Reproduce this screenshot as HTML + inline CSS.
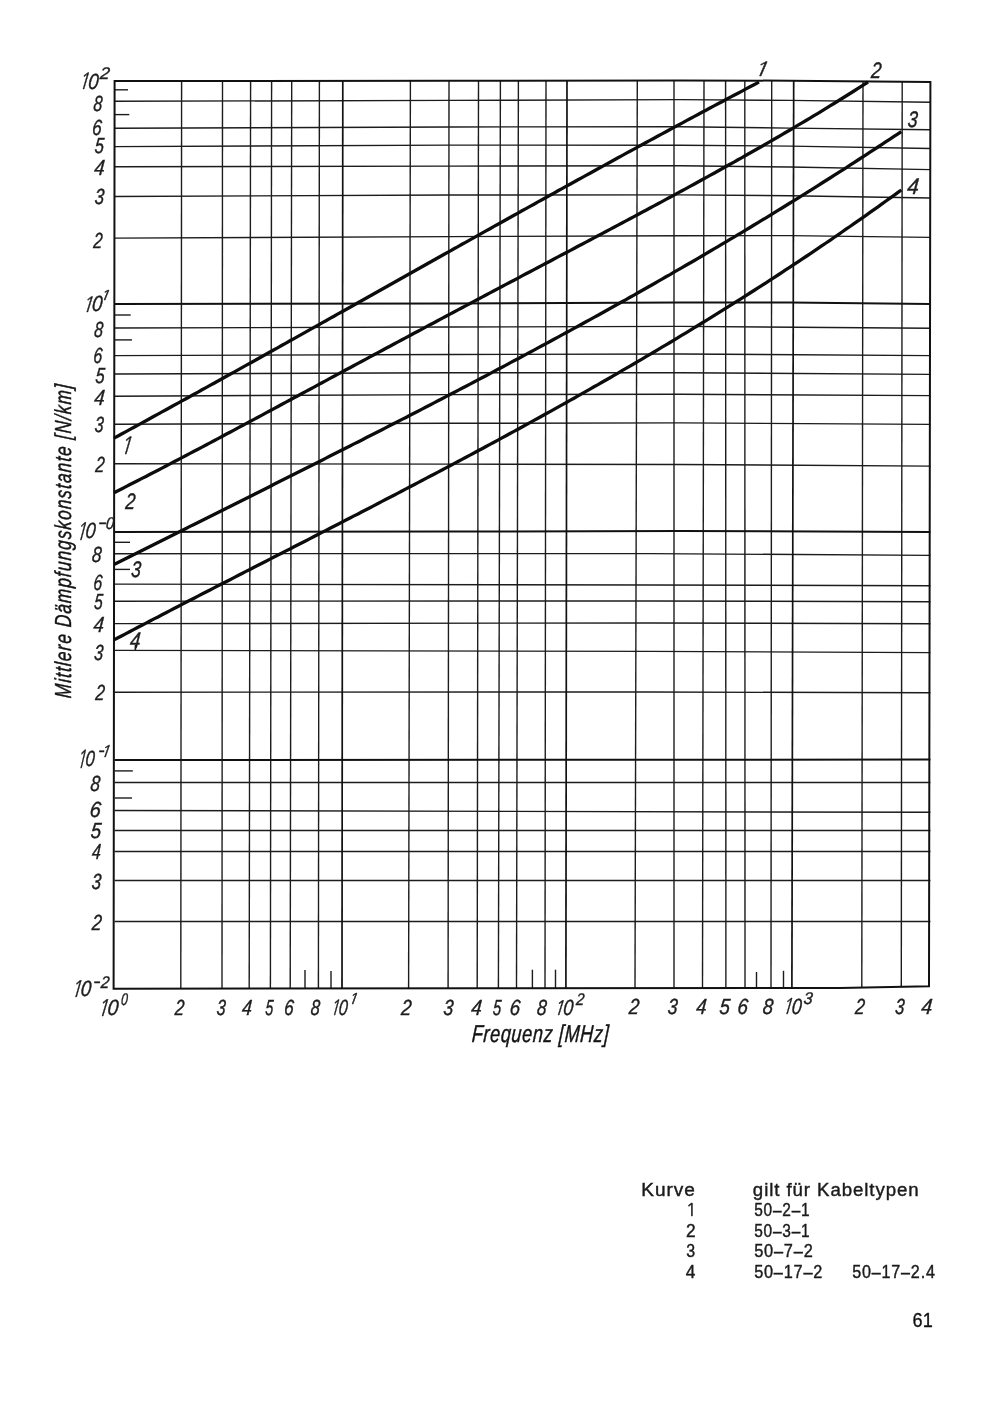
<!DOCTYPE html>
<html lang="de"><head><meta charset="utf-8"><title>Mittlere Dämpfungskonstante – Frequenz</title>
<style>
html,body{margin:0;padding:0;background:#fff;}
body{width:1000px;height:1404px;overflow:hidden;position:relative;}
svg{position:absolute;left:0;top:0;display:block;}
.t{font-family:"Liberation Sans",Arial,sans-serif;font-style:italic;fill:#151515;}
.g{font-family:"Liberation Sans",Arial,sans-serif;fill:#1a1a1a;}
</style></head><body>
<svg width="1000" height="1404" viewBox="0 0 1000 1404">
<rect width="1000" height="1404" fill="#fff"/>
<g stroke="#1c1c1c" stroke-width="1.4" fill="none" stroke-linecap="butt">
<polyline points="114.6,101.3 450.0,100.4 680.0,99.6 790.0,100.4 930.4,102.2"/>
<polyline points="114.6,128.2 450.0,127.0 680.0,126.7 790.0,128.1 930.4,129.8"/>
<polyline points="114.6,146.6 450.0,145.1 680.0,145.2 790.0,146.1 930.4,148.5"/>
<polyline points="114.6,166.7 450.0,166.1 680.0,165.8 790.0,167.0 930.4,169.6"/>
<polyline points="114.6,196.5 450.0,195.0 680.0,194.9 790.0,195.7 930.4,198.0"/>
<polyline points="114.6,238.1 450.0,236.6 680.0,235.7 790.0,235.6 930.4,237.4"/>
<polyline points="114.6,328.0 450.0,327.0 680.0,326.4 930.4,328.3"/>
<polyline points="114.6,355.6 450.0,354.5 680.0,354.0 930.4,355.6"/>
<polyline points="114.6,374.0 450.0,372.8 680.0,372.7 930.4,374.4"/>
<polyline points="114.6,396.2 450.0,394.6 680.0,394.3 930.4,395.6"/>
<polyline points="114.6,424.2 450.0,423.3 680.0,422.9 930.4,424.4"/>
<polyline points="114.6,463.7 450.0,464.1 680.0,464.5 930.4,466.1"/>
<polyline points="114.6,553.7 650.0,553.6 930.4,555.4"/>
<polyline points="114.6,584.1 650.0,585.0 930.4,585.7"/>
<polyline points="114.6,601.2 650.0,601.0 930.4,601.7"/>
<polyline points="114.6,623.6 650.0,623.0 930.4,623.7"/>
<polyline points="114.6,650.4 650.0,651.4 930.4,652.6"/>
<polyline points="114.6,692.2 650.0,692.0 930.4,692.8"/>
<polyline points="114.6,782.5 930.4,782.5"/>
<polyline points="114.6,810.5 930.4,812.3"/>
<polyline points="114.6,830.5 930.4,830.5"/>
<polyline points="114.6,851.5 930.4,851.5"/>
<polyline points="114.6,880.5 930.4,880.5"/>
<polyline points="114.6,921.5 930.4,921.5"/>
<line x1="181.6" y1="81.0" x2="180.8" y2="988.6"/>
<line x1="222.5" y1="80.9" x2="222.0" y2="988.6"/>
<line x1="250.6" y1="80.9" x2="249.2" y2="988.5"/>
<line x1="271.6" y1="80.9" x2="270.4" y2="988.5"/>
<line x1="291.7" y1="80.9" x2="290.2" y2="988.5"/>
<line x1="319.4" y1="80.9" x2="318.4" y2="988.4"/>
<line x1="410.4" y1="80.8" x2="408.6" y2="988.3"/>
<line x1="449.0" y1="80.8" x2="448.1" y2="988.2"/>
<line x1="478.5" y1="80.8" x2="477.2" y2="988.2"/>
<line x1="500.4" y1="80.7" x2="498.4" y2="988.2"/>
<line x1="518.4" y1="80.7" x2="516.5" y2="988.2"/>
<line x1="546.0" y1="80.6" x2="545.0" y2="988.2"/>
<line x1="637.3" y1="80.5" x2="635.0" y2="988.1"/>
<line x1="674.0" y1="80.4" x2="674.0" y2="988.1"/>
<line x1="704.0" y1="80.5" x2="702.5" y2="988.1"/>
<line x1="725.6" y1="80.5" x2="725.9" y2="988.1"/>
<line x1="744.8" y1="80.6" x2="745.0" y2="988.1"/>
<line x1="771.7" y1="80.7" x2="771.0" y2="988.0"/>
<line x1="863.0" y1="81.3" x2="861.8" y2="987.6"/>
<line x1="902.2" y1="81.7" x2="901.3" y2="986.8"/>
<line x1="114.6" y1="89.8" x2="128.0" y2="89.8"/>
<line x1="114.6" y1="114.6" x2="129.3" y2="114.6"/>
<line x1="114.6" y1="315.0" x2="130.7" y2="315.0"/>
<line x1="114.6" y1="339.9" x2="132.0" y2="339.9"/>
<line x1="114.6" y1="542.3" x2="130.0" y2="542.3"/>
<line x1="114.6" y1="569.4" x2="130.0" y2="569.4"/>
<line x1="114.6" y1="770.9" x2="132.8" y2="770.9"/>
<line x1="114.6" y1="798.0" x2="132.0" y2="798.0"/>
<line x1="305.0" y1="970.0" x2="305.0" y2="988.4"/>
<line x1="331.0" y1="971.0" x2="331.0" y2="988.4"/>
<line x1="532.4" y1="969.7" x2="532.4" y2="988.2"/>
<line x1="555.5" y1="969.7" x2="555.5" y2="988.2"/>
<line x1="756.5" y1="972.0" x2="756.5" y2="988.0"/>
<line x1="783.5" y1="970.8" x2="783.5" y2="988.0"/>
</g>
<g stroke="#111" stroke-width="2" fill="none">
<polyline points="114.6,303.9 450.0,303.5 680.0,302.4 790.0,302.6 930.4,304.0"/>
<polyline points="114.6,532.0 450.0,531.6 680.0,531.0 930.4,532.0"/>
<polyline points="114.6,760.1 930.4,759.6"/>
<line x1="342.8" y1="80.9" x2="342.0" y2="988.4" stroke-width="1.7"/>
<line x1="567.0" y1="80.6" x2="565.9" y2="988.2" stroke-width="1.7"/>
<line x1="793.7" y1="80.7" x2="791.9" y2="988.0" stroke-width="1.7"/>
<polygon points="114.6,81.0 450.0,80.8 680.0,80.4 790.0,80.7 930.4,81.9 929.0,986.3 840.0,988.0 480.0,988.2 113.6,988.7" stroke-width="2.0" stroke-linejoin="miter"/>
</g>
<g stroke="#0c0c0c" stroke-width="3.3" fill="none" stroke-linejoin="round" stroke-linecap="butt">
<polyline points="114.0,438.1 118.0,436.0 122.0,433.8 126.0,431.6 130.0,429.4 134.0,427.2 138.0,425.1 142.0,422.9 146.0,420.7 150.0,418.5 154.0,416.3 158.0,414.1 162.0,411.9 166.0,409.7 170.0,407.5 174.0,405.3 178.0,403.1 182.0,400.9 186.0,398.7 190.0,396.5 194.0,394.3 198.0,392.1 202.0,389.8 206.0,387.6 210.0,385.4 214.0,383.2 218.0,381.0 222.0,378.8 226.0,376.5 230.0,374.3 234.0,372.1 238.0,369.9 242.0,367.6 246.0,365.4 250.0,363.2 254.0,361.0 258.0,358.7 262.0,356.5 266.0,354.3 270.0,352.0 274.0,349.8 278.0,347.6 282.0,345.3 286.0,343.1 290.0,340.8 294.0,338.6 298.0,336.4 302.0,334.1 306.0,331.9 310.0,329.6 314.0,327.4 318.0,325.2 322.0,322.9 326.0,320.7 330.0,318.4 334.0,316.2 338.0,313.9 342.0,311.7 346.0,309.5 350.0,307.2 354.0,305.0 358.0,302.7 362.0,300.5 366.0,298.2 370.0,296.0 374.0,293.7 378.0,291.5 382.0,289.2 386.0,287.0 390.0,284.7 394.0,282.5 398.0,280.2 402.0,278.0 406.0,275.8 410.0,273.5 414.0,271.3 418.0,269.0 422.0,266.8 426.0,264.5 430.0,262.3 434.0,260.0 438.0,257.8 442.0,255.5 446.0,253.3 450.0,251.1 454.0,248.8 458.0,246.6 462.0,244.3 466.0,242.1 470.0,239.9 474.0,237.6 478.0,235.4 482.0,233.1 486.0,230.9 490.0,228.7 494.0,226.4 498.0,224.2 502.0,222.0 506.0,219.7 510.0,217.5 514.0,215.3 518.0,213.1 522.0,210.8 526.0,208.6 530.0,206.4 534.0,204.2 538.0,201.9 542.0,199.7 546.0,197.5 550.0,195.3 554.0,193.1 558.0,190.8 562.0,188.6 566.0,186.4 570.0,184.2 574.0,182.0 578.0,179.8 582.0,177.6 586.0,175.4 590.0,173.2 594.0,171.0 598.0,168.8 602.0,166.6 606.0,164.4 610.0,162.2 614.0,160.0 618.0,157.8 622.0,155.6 626.0,153.4 630.0,151.3 634.0,149.1 638.0,146.9 642.0,144.7 646.0,142.5 650.0,140.4 654.0,138.2 658.0,136.0 662.0,133.9 666.0,131.7 670.0,129.5 674.0,127.4 678.0,125.2 682.0,123.1 686.0,120.9 690.0,118.8 694.0,116.6 698.0,114.5 702.0,112.3 706.0,110.2 710.0,108.0 714.0,105.9 718.0,103.8 722.0,101.7 726.0,99.5 730.0,97.4 734.0,95.3 738.0,93.2 742.0,91.1 746.0,88.9 750.0,86.8 754.0,84.7 758.0,82.6 759.0,82.1"/>
<polyline points="114.0,492.7 118.0,490.7 122.0,488.7 126.0,486.6 130.0,484.6 134.0,482.5 138.0,480.5 142.0,478.4 146.0,476.4 150.0,474.3 154.0,472.3 158.0,470.2 162.0,468.1 166.0,466.0 170.0,463.9 174.0,461.8 178.0,459.7 182.0,457.6 186.0,455.5 190.0,453.4 194.0,451.3 198.0,449.2 202.0,447.1 206.0,445.0 210.0,442.9 214.0,440.7 218.0,438.6 222.0,436.5 226.0,434.3 230.0,432.2 234.0,430.1 238.0,427.9 242.0,425.8 246.0,423.6 250.0,421.5 254.0,419.4 258.0,417.2 262.0,415.1 266.0,412.9 270.0,410.8 274.0,408.6 278.0,406.5 282.0,404.3 286.0,402.1 290.0,400.0 294.0,397.8 298.0,395.7 302.0,393.5 306.0,391.4 310.0,389.2 314.0,387.1 318.0,384.9 322.0,382.7 326.0,380.6 330.0,378.4 334.0,376.3 338.0,374.1 342.0,372.0 346.0,369.8 350.0,367.7 354.0,365.5 358.0,363.4 362.0,361.2 366.0,359.1 370.0,356.9 374.0,354.8 378.0,352.6 382.0,350.5 386.0,348.3 390.0,346.2 394.0,344.0 398.0,341.9 402.0,339.7 406.0,337.6 410.0,335.5 414.0,333.3 418.0,331.2 422.0,329.1 426.0,326.9 430.0,324.8 434.0,322.7 438.0,320.5 442.0,318.4 446.0,316.3 450.0,314.1 454.0,312.0 458.0,309.9 462.0,307.7 466.0,305.6 470.0,303.5 474.0,301.4 478.0,299.2 482.0,297.1 486.0,295.0 490.0,292.9 494.0,290.8 498.0,288.6 502.0,286.5 506.0,284.4 510.0,282.3 514.0,280.2 518.0,278.1 522.0,275.9 526.0,273.8 530.0,271.7 534.0,269.6 538.0,267.5 542.0,265.4 546.0,263.3 550.0,261.2 554.0,259.0 558.0,256.9 562.0,254.8 566.0,252.7 570.0,250.6 574.0,248.5 578.0,246.3 582.0,244.2 586.0,242.1 590.0,240.0 594.0,237.9 598.0,235.8 602.0,233.6 606.0,231.5 610.0,229.4 614.0,227.3 618.0,225.1 622.0,223.0 626.0,220.9 630.0,218.7 634.0,216.6 638.0,214.5 642.0,212.3 646.0,210.2 650.0,208.0 654.0,205.9 658.0,203.7 662.0,201.6 666.0,199.4 670.0,197.3 674.0,195.1 678.0,192.9 682.0,190.7 686.0,188.6 690.0,186.4 694.0,184.2 698.0,182.0 702.0,179.8 706.0,177.6 710.0,175.4 714.0,173.2 718.0,171.0 722.0,168.8 726.0,166.5 730.0,164.3 734.0,162.1 738.0,159.8 742.0,157.6 746.0,155.3 750.0,153.0 754.0,150.8 758.0,148.5 762.0,146.2 766.0,143.9 770.0,141.6 774.0,139.3 778.0,137.0 782.0,134.6 786.0,132.3 790.0,130.0 794.0,127.6 798.0,125.2 802.0,122.9 806.0,120.5 810.0,118.1 814.0,115.7 818.0,113.3 822.0,110.8 826.0,108.4 830.0,105.9 834.0,103.5 838.0,101.0 842.0,98.5 846.0,96.0 850.0,93.5 854.0,91.0 858.0,88.4 862.0,85.9 866.0,83.3 868.0,82.0"/>
<polyline points="114.0,564.6 118.0,562.6 122.0,560.6 126.0,558.6 130.0,556.5 134.0,554.5 138.0,552.5 142.0,550.5 146.0,548.5 150.0,546.5 154.0,544.5 158.0,542.5 162.0,540.5 166.0,538.5 170.0,536.5 174.0,534.5 178.0,532.5 182.0,530.5 186.0,528.5 190.0,526.4 194.0,524.4 198.0,522.4 202.0,520.4 206.0,518.4 210.0,516.4 214.0,514.4 218.0,512.4 222.0,510.4 226.0,508.4 230.0,506.4 234.0,504.4 238.0,502.4 242.0,500.4 246.0,498.4 250.0,496.4 254.0,494.4 258.0,492.4 262.0,490.4 266.0,488.4 270.0,486.4 274.0,484.3 278.0,482.3 282.0,480.3 286.0,478.3 290.0,476.3 294.0,474.3 298.0,472.3 302.0,470.3 306.0,468.2 310.0,466.2 314.0,464.2 318.0,462.2 322.0,460.2 326.0,458.1 330.0,456.1 334.0,454.1 338.0,452.1 342.0,450.0 346.0,448.0 350.0,446.0 354.0,443.9 358.0,441.9 362.0,439.9 366.0,437.8 370.0,435.8 374.0,433.8 378.0,431.7 382.0,429.7 386.0,427.6 390.0,425.6 394.0,423.5 398.0,421.5 402.0,419.4 406.0,417.4 410.0,415.3 414.0,413.2 418.0,411.2 422.0,409.1 426.0,407.0 430.0,405.0 434.0,402.9 438.0,400.8 442.0,398.7 446.0,396.6 450.0,394.6 454.0,392.5 458.0,390.4 462.0,388.3 466.0,386.2 470.0,384.1 474.0,382.0 478.0,379.9 482.0,377.8 486.0,375.7 490.0,373.6 494.0,371.4 498.0,369.3 502.0,367.2 506.0,365.1 510.0,362.9 514.0,360.8 518.0,358.7 522.0,356.5 526.0,354.4 530.0,352.2 534.0,350.1 538.0,347.9 542.0,345.8 546.0,343.6 550.0,341.5 554.0,339.3 558.0,337.1 562.0,334.9 566.0,332.8 570.0,330.6 574.0,328.4 578.0,326.2 582.0,324.0 586.0,321.8 590.0,319.6 594.0,317.4 598.0,315.2 602.0,313.0 606.0,310.7 610.0,308.5 614.0,306.3 618.0,304.0 622.0,301.8 626.0,299.6 630.0,297.3 634.0,295.1 638.0,292.8 642.0,290.5 646.0,288.3 650.0,286.0 654.0,283.7 658.0,281.4 662.0,279.1 666.0,276.8 670.0,274.6 674.0,272.2 678.0,269.9 682.0,267.6 686.0,265.3 690.0,263.0 694.0,260.7 698.0,258.3 702.0,256.0 706.0,253.6 710.0,251.3 714.0,248.9 718.0,246.6 722.0,244.2 726.0,241.8 730.0,239.4 734.0,237.1 738.0,234.7 742.0,232.3 746.0,229.9 750.0,227.5 754.0,225.0 758.0,222.6 762.0,220.2 766.0,217.8 770.0,215.3 774.0,212.9 778.0,210.4 782.0,208.0 786.0,205.5 790.0,203.0 794.0,200.6 798.0,198.1 802.0,195.6 806.0,193.1 810.0,190.6 814.0,188.1 818.0,185.6 822.0,183.0 826.0,180.5 830.0,178.0 834.0,175.4 838.0,172.9 842.0,170.3 846.0,167.8 850.0,165.2 854.0,162.6 858.0,160.0 862.0,157.4 866.0,154.8 870.0,152.2 874.0,149.6 878.0,147.0 882.0,144.4 886.0,141.7 890.0,139.1 894.0,136.4 898.0,133.8 901.3,131.6"/>
<polyline points="114.0,639.9 118.0,637.8 122.0,635.7 126.0,633.6 130.0,631.5 134.0,629.4 138.0,627.3 142.0,625.2 146.0,623.1 150.0,621.0 154.0,618.9 158.0,616.9 162.0,614.8 166.0,612.7 170.0,610.6 174.0,608.6 178.0,606.5 182.0,604.4 186.0,602.3 190.0,600.3 194.0,598.2 198.0,596.1 202.0,594.1 206.0,592.0 210.0,590.0 214.0,587.9 218.0,585.8 222.0,583.8 226.0,581.7 230.0,579.7 234.0,577.6 238.0,575.6 242.0,573.5 246.0,571.4 250.0,569.4 254.0,567.3 258.0,565.3 262.0,563.2 266.0,561.2 270.0,559.1 274.0,557.1 278.0,555.0 282.0,553.0 286.0,550.9 290.0,548.9 294.0,546.8 298.0,544.8 302.0,542.7 306.0,540.7 310.0,538.6 314.0,536.5 318.0,534.5 322.0,532.4 326.0,530.4 330.0,528.3 334.0,526.3 338.0,524.2 342.0,522.1 346.0,520.1 350.0,518.0 354.0,515.9 358.0,513.9 362.0,511.8 366.0,509.7 370.0,507.7 374.0,505.6 378.0,503.5 382.0,501.4 386.0,499.3 390.0,497.3 394.0,495.2 398.0,493.1 402.0,491.0 406.0,488.9 410.0,486.8 414.0,484.7 418.0,482.6 422.0,480.5 426.0,478.4 430.0,476.3 434.0,474.2 438.0,472.1 442.0,470.0 446.0,467.9 450.0,465.8 454.0,463.6 458.0,461.5 462.0,459.4 466.0,457.2 470.0,455.1 474.0,453.0 478.0,450.8 482.0,448.7 486.0,446.5 490.0,444.4 494.0,442.2 498.0,440.1 502.0,437.9 506.0,435.7 510.0,433.5 514.0,431.4 518.0,429.2 522.0,427.0 526.0,424.8 530.0,422.6 534.0,420.4 538.0,418.2 542.0,416.0 546.0,413.8 550.0,411.6 554.0,409.4 558.0,407.1 562.0,404.9 566.0,402.7 570.0,400.4 574.0,398.2 578.0,395.9 582.0,393.6 586.0,391.4 590.0,389.1 594.0,386.8 598.0,384.6 602.0,382.3 606.0,380.0 610.0,377.7 614.0,375.4 618.0,373.1 622.0,370.7 626.0,368.4 630.0,366.1 634.0,363.8 638.0,361.4 642.0,359.1 646.0,356.7 650.0,354.4 654.0,352.0 658.0,349.6 662.0,347.2 666.0,344.9 670.0,342.5 674.0,340.1 678.0,337.6 682.0,335.2 686.0,332.8 690.0,330.4 694.0,327.9 698.0,325.5 702.0,323.0 706.0,320.6 710.0,318.1 714.0,315.6 718.0,313.2 722.0,310.7 726.0,308.2 730.0,305.7 734.0,303.2 738.0,300.6 742.0,298.1 746.0,295.6 750.0,293.0 754.0,290.5 758.0,287.9 762.0,285.3 766.0,282.8 770.0,280.2 774.0,277.6 778.0,275.0 782.0,272.3 786.0,269.7 790.0,267.1 794.0,264.4 798.0,261.8 802.0,259.1 806.0,256.5 810.0,253.8 814.0,251.1 818.0,248.4 822.0,245.7 826.0,243.0 830.0,240.3 834.0,237.5 838.0,234.8 842.0,232.0 846.0,229.2 850.0,226.5 854.0,223.7 858.0,220.9 862.0,218.1 866.0,215.3 870.0,212.4 874.0,209.6 878.0,206.8 882.0,203.9 886.0,201.0 890.0,198.1 894.0,195.3 898.0,192.4 901.3,190.0"/>
</g>
<g>
<text transform="translate(96.32,1015.50) scale(0.834,1) skewX(-6)" font-family="NanumGothic, Liberation Sans, sans-serif" font-style="italic" font-size="22.7" fill="#1e1e1e" stroke="#1e1e1e" stroke-width="0.42">1</text>
<text transform="translate(107.10,1014.62) scale(0.895,1) skewX(-6)" font-family="Liberation Sans, Arial, sans-serif" font-style="italic" font-size="21.8" fill="#1e1e1e" stroke="#1e1e1e" stroke-width="0.42">0</text>
<text transform="translate(120.75,1004.87) scale(0.710,1) skewX(-6)" font-family="Liberation Sans, Arial, sans-serif" font-style="italic" font-size="17.0" fill="#1e1e1e" stroke="#1e1e1e" stroke-width="0.42">0</text>
<text transform="translate(174.40,1014.93) scale(0.765,1) skewX(-6)" font-family="Liberation Sans, Arial, sans-serif" font-style="italic" font-size="21.8" fill="#1e1e1e" stroke="#1e1e1e" stroke-width="0.42">2</text>
<text transform="translate(216.36,1014.82) scale(0.737,1) skewX(-6)" font-family="Liberation Sans, Arial, sans-serif" font-style="italic" font-size="21.8" fill="#1e1e1e" stroke="#1e1e1e" stroke-width="0.42">3</text>
<text transform="translate(241.46,1014.82) scale(0.819,1) skewX(-6)" font-family="Liberation Sans, Arial, sans-serif" font-style="italic" font-size="21.8" fill="#1e1e1e" stroke="#1e1e1e" stroke-width="0.42">4</text>
<text transform="translate(265.03,1014.71) scale(0.653,1) skewX(-6)" font-family="Liberation Sans, Arial, sans-serif" font-style="italic" font-size="21.8" fill="#1e1e1e" stroke="#1e1e1e" stroke-width="0.42">5</text>
<text transform="translate(283.64,1014.82) scale(0.779,1) skewX(-6)" font-family="Liberation Sans, Arial, sans-serif" font-style="italic" font-size="21.8" fill="#1e1e1e" stroke="#1e1e1e" stroke-width="0.42">6</text>
<text transform="translate(310.34,1014.82) scale(0.756,1) skewX(-6)" font-family="Liberation Sans, Arial, sans-serif" font-style="italic" font-size="21.8" fill="#1e1e1e" stroke="#1e1e1e" stroke-width="0.42">8</text>
<text transform="translate(329.27,1015.00) scale(0.758,1) skewX(-6)" font-family="NanumGothic, Liberation Sans, sans-serif" font-style="italic" font-size="20.81" fill="#1e1e1e" stroke="#1e1e1e" stroke-width="0.42">1</text>
<text transform="translate(338.25,1014.82) scale(0.746,1) skewX(-6)" font-family="Liberation Sans, Arial, sans-serif" font-style="italic" font-size="21.8" fill="#1e1e1e" stroke="#1e1e1e" stroke-width="0.42">0</text>
<text transform="translate(347.45,1004.00) scale(1.020,1) skewX(-6)" font-family="NanumGothic, Liberation Sans, sans-serif" font-style="italic" font-size="14.86" fill="#1e1e1e" stroke="#1e1e1e" stroke-width="0.42">1</text>
<text transform="translate(400.80,1015.03) scale(0.841,1) skewX(-6)" font-family="Liberation Sans, Arial, sans-serif" font-style="italic" font-size="21.8" fill="#1e1e1e" stroke="#1e1e1e" stroke-width="0.42">2</text>
<text transform="translate(442.99,1014.92) scale(0.811,1) skewX(-6)" font-family="Liberation Sans, Arial, sans-serif" font-style="italic" font-size="21.8" fill="#1e1e1e" stroke="#1e1e1e" stroke-width="0.42">3</text>
<text transform="translate(470.63,1014.92) scale(0.868,1) skewX(-6)" font-family="Liberation Sans, Arial, sans-serif" font-style="italic" font-size="21.8" fill="#1e1e1e" stroke="#1e1e1e" stroke-width="0.42">4</text>
<text transform="translate(492.60,1014.81) scale(0.684,1) skewX(-6)" font-family="Liberation Sans, Arial, sans-serif" font-style="italic" font-size="21.8" fill="#1e1e1e" stroke="#1e1e1e" stroke-width="0.42">5</text>
<text transform="translate(509.31,1014.92) scale(0.857,1) skewX(-6)" font-family="Liberation Sans, Arial, sans-serif" font-style="italic" font-size="21.8" fill="#1e1e1e" stroke="#1e1e1e" stroke-width="0.42">6</text>
<text transform="translate(536.51,1014.92) scale(0.797,1) skewX(-6)" font-family="Liberation Sans, Arial, sans-serif" font-style="italic" font-size="21.8" fill="#1e1e1e" stroke="#1e1e1e" stroke-width="0.42">8</text>
<text transform="translate(552.76,1014.80) scale(0.873,1) skewX(-6)" font-family="NanumGothic, Liberation Sans, sans-serif" font-style="italic" font-size="20.0" fill="#1e1e1e" stroke="#1e1e1e" stroke-width="0.42">1</text>
<text transform="translate(562.70,1014.92) scale(0.826,1) skewX(-6)" font-family="Liberation Sans, Arial, sans-serif" font-style="italic" font-size="21.8" fill="#1e1e1e" stroke="#1e1e1e" stroke-width="0.42">0</text>
<text transform="translate(575.70,1004.85) scale(0.863,1) skewX(-6)" font-family="Liberation Sans, Arial, sans-serif" font-style="italic" font-size="17.0" fill="#1e1e1e" stroke="#1e1e1e" stroke-width="0.42">2</text>
<text transform="translate(628.40,1014.28) scale(0.841,1) skewX(-6)" font-family="Liberation Sans, Arial, sans-serif" font-style="italic" font-size="21.8" fill="#1e1e1e" stroke="#1e1e1e" stroke-width="0.42">2</text>
<text transform="translate(667.29,1014.17) scale(0.811,1) skewX(-6)" font-family="Liberation Sans, Arial, sans-serif" font-style="italic" font-size="21.8" fill="#1e1e1e" stroke="#1e1e1e" stroke-width="0.42">3</text>
<text transform="translate(695.65,1014.17) scale(0.844,1) skewX(-6)" font-family="Liberation Sans, Arial, sans-serif" font-style="italic" font-size="21.8" fill="#1e1e1e" stroke="#1e1e1e" stroke-width="0.42">4</text>
<text transform="translate(718.95,1014.06) scale(0.855,1) skewX(-6)" font-family="Liberation Sans, Arial, sans-serif" font-style="italic" font-size="21.8" fill="#1e1e1e" stroke="#1e1e1e" stroke-width="0.42">5</text>
<text transform="translate(736.91,1014.17) scale(0.857,1) skewX(-6)" font-family="Liberation Sans, Arial, sans-serif" font-style="italic" font-size="21.8" fill="#1e1e1e" stroke="#1e1e1e" stroke-width="0.42">6</text>
<text transform="translate(762.26,1014.17) scale(0.853,1) skewX(-6)" font-family="Liberation Sans, Arial, sans-serif" font-style="italic" font-size="21.8" fill="#1e1e1e" stroke="#1e1e1e" stroke-width="0.42">8</text>
<text transform="translate(781.29,1014.40) scale(0.807,1) skewX(-6)" font-family="NanumGothic, Liberation Sans, sans-serif" font-style="italic" font-size="21.49" fill="#1e1e1e" stroke="#1e1e1e" stroke-width="0.42">1</text>
<text transform="translate(791.17,1013.97) scale(0.820,1) skewX(-6)" font-family="Liberation Sans, Arial, sans-serif" font-style="italic" font-size="21.8" fill="#1e1e1e" stroke="#1e1e1e" stroke-width="0.42">0</text>
<text transform="translate(803.36,1003.62) scale(0.945,1) skewX(-6)" font-family="Liberation Sans, Arial, sans-serif" font-style="italic" font-size="17.0" fill="#1e1e1e" stroke="#1e1e1e" stroke-width="0.42">3</text>
<text transform="translate(854.70,1013.98) scale(0.787,1) skewX(-6)" font-family="Liberation Sans, Arial, sans-serif" font-style="italic" font-size="21.8" fill="#1e1e1e" stroke="#1e1e1e" stroke-width="0.42">2</text>
<text transform="translate(894.74,1013.87) scale(0.762,1) skewX(-6)" font-family="Liberation Sans, Arial, sans-serif" font-style="italic" font-size="21.8" fill="#1e1e1e" stroke="#1e1e1e" stroke-width="0.42">3</text>
<text transform="translate(920.81,1013.87) scale(0.901,1) skewX(-6)" font-family="Liberation Sans, Arial, sans-serif" font-style="italic" font-size="21.8" fill="#1e1e1e" stroke="#1e1e1e" stroke-width="0.42">4</text>
<text transform="translate(92.96,110.87) scale(0.732,1) skewX(-6)" font-family="Liberation Sans, Arial, sans-serif" font-style="italic" font-size="21.8" fill="#1e1e1e" stroke="#1e1e1e" stroke-width="0.42">8</text>
<text transform="translate(91.64,135.07) scale(0.779,1) skewX(-6)" font-family="Liberation Sans, Arial, sans-serif" font-style="italic" font-size="21.8" fill="#1e1e1e" stroke="#1e1e1e" stroke-width="0.42">6</text>
<text transform="translate(94.34,153.16) scale(0.762,1) skewX(-6)" font-family="Liberation Sans, Arial, sans-serif" font-style="italic" font-size="21.8" fill="#1e1e1e" stroke="#1e1e1e" stroke-width="0.42">5</text>
<text transform="translate(93.74,175.27) scale(0.860,1) skewX(-6)" font-family="Liberation Sans, Arial, sans-serif" font-style="italic" font-size="21.8" fill="#1e1e1e" stroke="#1e1e1e" stroke-width="0.42">4</text>
<text transform="translate(94.32,204.27) scale(0.778,1) skewX(-6)" font-family="Liberation Sans, Arial, sans-serif" font-style="italic" font-size="21.8" fill="#1e1e1e" stroke="#1e1e1e" stroke-width="0.42">3</text>
<text transform="translate(93.00,247.88) scale(0.742,1) skewX(-6)" font-family="Liberation Sans, Arial, sans-serif" font-style="italic" font-size="21.8" fill="#1e1e1e" stroke="#1e1e1e" stroke-width="0.42">2</text>
<text transform="translate(93.66,336.52) scale(0.732,1) skewX(-6)" font-family="Liberation Sans, Arial, sans-serif" font-style="italic" font-size="21.8" fill="#1e1e1e" stroke="#1e1e1e" stroke-width="0.42">8</text>
<text transform="translate(93.03,362.82) scale(0.727,1) skewX(-6)" font-family="Liberation Sans, Arial, sans-serif" font-style="italic" font-size="21.8" fill="#1e1e1e" stroke="#1e1e1e" stroke-width="0.42">6</text>
<text transform="translate(95.04,382.66) scale(0.762,1) skewX(-6)" font-family="Liberation Sans, Arial, sans-serif" font-style="italic" font-size="21.8" fill="#1e1e1e" stroke="#1e1e1e" stroke-width="0.42">5</text>
<text transform="translate(93.74,404.82) scale(0.860,1) skewX(-6)" font-family="Liberation Sans, Arial, sans-serif" font-style="italic" font-size="21.8" fill="#1e1e1e" stroke="#1e1e1e" stroke-width="0.42">4</text>
<text transform="translate(94.36,432.22) scale(0.737,1) skewX(-6)" font-family="Liberation Sans, Arial, sans-serif" font-style="italic" font-size="21.8" fill="#1e1e1e" stroke="#1e1e1e" stroke-width="0.42">3</text>
<text transform="translate(95.00,472.03) scale(0.749,1) skewX(-6)" font-family="Liberation Sans, Arial, sans-serif" font-style="italic" font-size="21.8" fill="#1e1e1e" stroke="#1e1e1e" stroke-width="0.42">2</text>
<text transform="translate(91.51,561.87) scale(0.789,1) skewX(-6)" font-family="Liberation Sans, Arial, sans-serif" font-style="italic" font-size="21.8" fill="#1e1e1e" stroke="#1e1e1e" stroke-width="0.42">8</text>
<text transform="translate(93.03,589.87) scale(0.727,1) skewX(-6)" font-family="Liberation Sans, Arial, sans-serif" font-style="italic" font-size="21.8" fill="#1e1e1e" stroke="#1e1e1e" stroke-width="0.42">6</text>
<text transform="translate(93.68,609.41) scale(0.708,1) skewX(-6)" font-family="Liberation Sans, Arial, sans-serif" font-style="italic" font-size="21.8" fill="#1e1e1e" stroke="#1e1e1e" stroke-width="0.42">5</text>
<text transform="translate(93.04,631.52) scale(0.860,1) skewX(-6)" font-family="Liberation Sans, Arial, sans-serif" font-style="italic" font-size="21.8" fill="#1e1e1e" stroke="#1e1e1e" stroke-width="0.42">4</text>
<text transform="translate(93.65,659.87) scale(0.745,1) skewX(-6)" font-family="Liberation Sans, Arial, sans-serif" font-style="italic" font-size="21.8" fill="#1e1e1e" stroke="#1e1e1e" stroke-width="0.42">3</text>
<text transform="translate(95.00,699.53) scale(0.765,1) skewX(-6)" font-family="Liberation Sans, Arial, sans-serif" font-style="italic" font-size="21.8" fill="#1e1e1e" stroke="#1e1e1e" stroke-width="0.42">2</text>
<text transform="translate(90.11,790.72) scale(0.789,1) skewX(-6)" font-family="Liberation Sans, Arial, sans-serif" font-style="italic" font-size="21.8" fill="#1e1e1e" stroke="#1e1e1e" stroke-width="0.42">8</text>
<text transform="translate(89.22,816.92) scale(0.909,1) skewX(-6)" font-family="Liberation Sans, Arial, sans-serif" font-style="italic" font-size="21.8" fill="#1e1e1e" stroke="#1e1e1e" stroke-width="0.42">6</text>
<text transform="translate(90.25,837.81) scale(0.855,1) skewX(-6)" font-family="Liberation Sans, Arial, sans-serif" font-style="italic" font-size="21.8" fill="#1e1e1e" stroke="#1e1e1e" stroke-width="0.42">5</text>
<text transform="translate(91.52,859.27) scale(0.737,1) skewX(-6)" font-family="Liberation Sans, Arial, sans-serif" font-style="italic" font-size="21.8" fill="#1e1e1e" stroke="#1e1e1e" stroke-width="0.42">4</text>
<text transform="translate(91.32,889.02) scale(0.778,1) skewX(-6)" font-family="Liberation Sans, Arial, sans-serif" font-style="italic" font-size="21.8" fill="#1e1e1e" stroke="#1e1e1e" stroke-width="0.42">3</text>
<text transform="translate(91.50,929.68) scale(0.803,1) skewX(-6)" font-family="Liberation Sans, Arial, sans-serif" font-style="italic" font-size="21.8" fill="#1e1e1e" stroke="#1e1e1e" stroke-width="0.42">2</text>
<text transform="translate(77.59,89.40) scale(0.813,1) skewX(-6)" font-family="NanumGothic, Liberation Sans, sans-serif" font-style="italic" font-size="22.16" fill="#1e1e1e" stroke="#1e1e1e" stroke-width="0.42">1</text>
<text transform="translate(87.85,88.72) scale(0.852,1) skewX(-6)" font-family="Liberation Sans, Arial, sans-serif" font-style="italic" font-size="21.8" fill="#1e1e1e" stroke="#1e1e1e" stroke-width="0.42">0</text>
<text transform="translate(99.50,78.95) scale(1.029,1) skewX(-6)" font-family="Liberation Sans, Arial, sans-serif" font-style="italic" font-size="17.0" fill="#1e1e1e" stroke="#1e1e1e" stroke-width="0.42">2</text>
<text transform="translate(81.16,311.60) scale(0.860,1) skewX(-6)" font-family="NanumGothic, Liberation Sans, sans-serif" font-style="italic" font-size="21.08" fill="#1e1e1e" stroke="#1e1e1e" stroke-width="0.42">1</text>
<text transform="translate(91.48,311.32) scale(0.858,1) skewX(-6)" font-family="Liberation Sans, Arial, sans-serif" font-style="italic" font-size="21.8" fill="#1e1e1e" stroke="#1e1e1e" stroke-width="0.42">0</text>
<text transform="translate(99.45,300.00) scale(1.122,1) skewX(-6)" font-family="NanumGothic, Liberation Sans, sans-serif" font-style="italic" font-size="13.51" fill="#1e1e1e" stroke="#1e1e1e" stroke-width="0.42">1</text>
<text transform="translate(74.93,539.70) scale(0.735,1) skewX(-6)" font-family="NanumGothic, Liberation Sans, sans-serif" font-style="italic" font-size="23.92" fill="#1e1e1e" stroke="#1e1e1e" stroke-width="0.42">1</text>
<text transform="translate(84.93,538.37) scale(0.831,1) skewX(-6)" font-family="Liberation Sans, Arial, sans-serif" font-style="italic" font-size="21.8" fill="#1e1e1e" stroke="#1e1e1e" stroke-width="0.42">0</text>
<text transform="translate(98.05,529.00) scale(0.792,1) skewX(-6)" font-family="Liberation Sans, Arial, sans-serif" font-style="italic" font-size="17.0" fill="#1e1e1e" stroke="#1e1e1e" stroke-width="0.42">−</text>
<text transform="translate(105.57,529.32) scale(0.866,1) skewX(-6)" font-family="Liberation Sans, Arial, sans-serif" font-style="italic" font-size="17.0" fill="#1e1e1e" stroke="#1e1e1e" stroke-width="0.42">0</text>
<text transform="translate(75.87,767.80) scale(0.655,1) skewX(-6)" font-family="NanumGothic, Liberation Sans, sans-serif" font-style="italic" font-size="24.59" fill="#1e1e1e" stroke="#1e1e1e" stroke-width="0.42">1</text>
<text transform="translate(85.04,766.22) scale(0.762,1) skewX(-6)" font-family="Liberation Sans, Arial, sans-serif" font-style="italic" font-size="21.8" fill="#1e1e1e" stroke="#1e1e1e" stroke-width="0.42">0</text>
<text transform="translate(98.20,756.70) scale(0.588,1) skewX(-6)" font-family="Liberation Sans, Arial, sans-serif" font-style="italic" font-size="17.0" fill="#1e1e1e" stroke="#1e1e1e" stroke-width="0.42">−</text>
<text transform="translate(99.77,756.60) scale(0.980,1) skewX(-6)" font-family="NanumGothic, Liberation Sans, sans-serif" font-style="italic" font-size="16.08" fill="#1e1e1e" stroke="#1e1e1e" stroke-width="0.42">1</text>
<text transform="translate(69.96,997.30) scale(0.799,1) skewX(-6)" font-family="NanumGothic, Liberation Sans, sans-serif" font-style="italic" font-size="22.7" fill="#1e1e1e" stroke="#1e1e1e" stroke-width="0.42">1</text>
<text transform="translate(80.28,996.42) scale(0.858,1) skewX(-6)" font-family="Liberation Sans, Arial, sans-serif" font-style="italic" font-size="21.8" fill="#1e1e1e" stroke="#1e1e1e" stroke-width="0.42">0</text>
<text transform="translate(93.16,987.60) scale(0.672,1) skewX(-6)" font-family="Liberation Sans, Arial, sans-serif" font-style="italic" font-size="17.0" fill="#1e1e1e" stroke="#1e1e1e" stroke-width="0.42">−</text>
<text transform="translate(100.60,987.50) scale(0.892,1) skewX(-6)" font-family="Liberation Sans, Arial, sans-serif" font-style="italic" font-size="17.0" fill="#1e1e1e" stroke="#1e1e1e" stroke-width="0.42">2</text>
<text transform="translate(119.18,454.30) scale(0.820,1) skewX(-6)" font-family="NanumGothic, Liberation Sans, sans-serif" font-style="italic" font-size="23.65" fill="#1e1e1e" stroke="#1e1e1e" stroke-width="0.42">1</text>
<text transform="translate(125.00,508.77) scale(0.785,1) skewX(-6)" font-family="Liberation Sans, Arial, sans-serif" font-style="italic" font-size="22.5" fill="#1e1e1e" stroke="#1e1e1e" stroke-width="0.42">2</text>
<text transform="translate(130.70,576.61) scale(0.778,1) skewX(-6)" font-family="Liberation Sans, Arial, sans-serif" font-style="italic" font-size="22.5" fill="#1e1e1e" stroke="#1e1e1e" stroke-width="0.42">3</text>
<text transform="translate(129.44,648.26) scale(0.833,1) skewX(-6)" font-family="Liberation Sans, Arial, sans-serif" font-style="italic" font-size="22.5" fill="#1e1e1e" stroke="#1e1e1e" stroke-width="0.42">4</text>
<text transform="translate(752.60,76.40) scale(1.199,1) skewX(-6)" font-family="NanumGothic, Liberation Sans, sans-serif" font-style="italic" font-size="19.46" fill="#1e1e1e" stroke="#1e1e1e" stroke-width="0.42">1</text>
<text transform="translate(870.70,77.88) scale(0.807,1) skewX(-6)" font-family="Liberation Sans, Arial, sans-serif" font-style="italic" font-size="22.5" fill="#1e1e1e" stroke="#1e1e1e" stroke-width="0.42">2</text>
<text transform="translate(907.29,126.76) scale(0.794,1) skewX(-6)" font-family="Liberation Sans, Arial, sans-serif" font-style="italic" font-size="22.5" fill="#1e1e1e" stroke="#1e1e1e" stroke-width="0.42">3</text>
<text transform="translate(906.78,194.41) scale(0.921,1) skewX(-6)" font-family="Liberation Sans, Arial, sans-serif" font-style="italic" font-size="22.5" fill="#1e1e1e" stroke="#1e1e1e" stroke-width="0.42">4</text>
<text transform="translate(641.28,1195.60) scale(1.041,1)" font-family="Liberation Sans, Arial, sans-serif" font-size="18.3" letter-spacing="0.9" fill="#1b1b1b" stroke="#1b1b1b" stroke-width="0.42">Kurve</text>
<text transform="translate(752.85,1195.60) scale(1.019,1)" font-family="Liberation Sans, Arial, sans-serif" font-size="18.3" letter-spacing="0.9" fill="#1b1b1b" stroke="#1b1b1b" stroke-width="0.42">gilt für Kabeltypen</text>
<text transform="translate(685.84,1215.80) scale(0.998,1)" font-family="NanumGothic, Liberation Sans, sans-serif" font-size="18.3" letter-spacing="0.0" fill="#1b1b1b" stroke="#1b1b1b" stroke-width="0.42">1</text>
<text transform="translate(754.18,1215.80) scale(0.846,1)" font-family="Liberation Sans, Arial, sans-serif" font-size="18.3" letter-spacing="0.9" fill="#1b1b1b" stroke="#1b1b1b" stroke-width="0.42">50–2–1</text>
<text transform="translate(685.93,1236.60) scale(0.950,1)" font-family="Liberation Sans, Arial, sans-serif" font-size="18.3" letter-spacing="0.0" fill="#1b1b1b" stroke="#1b1b1b" stroke-width="0.42">2</text>
<text transform="translate(754.18,1236.60) scale(0.846,1)" font-family="Liberation Sans, Arial, sans-serif" font-size="18.3" letter-spacing="0.9" fill="#1b1b1b" stroke="#1b1b1b" stroke-width="0.42">50–3–1</text>
<text transform="translate(686.16,1257.30) scale(0.872,1)" font-family="Liberation Sans, Arial, sans-serif" font-size="18.3" letter-spacing="0.0" fill="#1b1b1b" stroke="#1b1b1b" stroke-width="0.42">3</text>
<text transform="translate(754.15,1257.30) scale(0.894,1)" font-family="Liberation Sans, Arial, sans-serif" font-size="18.3" letter-spacing="0.9" fill="#1b1b1b" stroke="#1b1b1b" stroke-width="0.42">50–7–2</text>
<text transform="translate(685.65,1278.00) scale(0.943,1)" font-family="Liberation Sans, Arial, sans-serif" font-size="18.3" letter-spacing="0.0" fill="#1b1b1b" stroke="#1b1b1b" stroke-width="0.42">4</text>
<text transform="translate(754.15,1278.00) scale(0.890,1)" font-family="Liberation Sans, Arial, sans-serif" font-size="18.3" letter-spacing="0.9" fill="#1b1b1b" stroke="#1b1b1b" stroke-width="0.42">50–17–2</text>
<text transform="translate(852.25,1278.00) scale(0.882,1)" font-family="Liberation Sans, Arial, sans-serif" font-size="18.3" letter-spacing="0.9" fill="#1b1b1b" stroke="#1b1b1b" stroke-width="0.42">50–17–2.4</text>
<text transform="translate(912.59,1327.29) scale(0.858,1)" font-family="Liberation Sans, Arial, sans-serif" font-size="21.13" fill="#111" stroke="#111" stroke-width="0.35">61</text>
<text transform="translate(471.46,1041.8) scale(0.74,1) skewX(-5)" font-family="Liberation Sans, Arial, sans-serif" font-style="italic" font-size="24.35" letter-spacing="0.89" fill="#141414" stroke="#141414" stroke-width="0.45">Frequenz [MHz]</text>
<text transform="translate(71,698.51) rotate(-90) scale(0.74,1) skewX(-5)" font-family="Liberation Sans, Arial, sans-serif" font-style="italic" font-size="23.19" letter-spacing="1.50" fill="#141414" stroke="#141414" stroke-width="0.45">Mittlere Dämpfungskonstante [N/km]</text>
</g>
<line x1="135.5" y1="645" x2="135.3" y2="650.3" stroke="#1a1a1a" stroke-width="1.6"/>
</svg>
</body></html>
